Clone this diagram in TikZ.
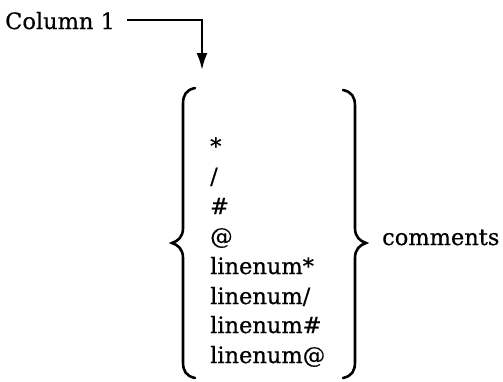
\documentclass[tikz,border=0pt]{standalone}
\usepackage{fontspec}
\setmainfont{DejaVu Serif}[FakeBold=0.5]
\usetikzlibrary{arrows.meta}
\begin{document}
\begin{tikzpicture}[x=1pt,y=-1pt,
  lbl/.style={anchor=base west,inner sep=0pt,font=\fontsize{22.5}{26}\selectfont},
  brace/.style={line width=2.6pt,line cap=round},
  conn/.style={line width=2.2pt,-{Latex[length=17pt,width=11pt]}}]
\useasboundingbox (0,0) rectangle (503,381);
\node[lbl] (col) at (5,29) {Column 1};
\coordinate (tip) at (202,70);
\draw[conn] ([xshift=12pt,yshift=1pt]col.east) -| (tip);
% list
\node[lbl] (i1) at (210,154) {*};
\node[lbl] (i2) at (210,184) {/};
\node[lbl] (i3) at (210,214) {\#};
\node[lbl] (i4) at (210,244) {@};
\node[lbl] (i5) at (210,274) {linenum*};
\node[lbl] (i6) at (210,304) {linenum/};
\node[lbl] (i7) at (210,333) {linenum\#};
\node[lbl] (i8) at (210,363) {linenum@};
% left brace
\draw[brace] (195,88) .. controls (186,90) and (183,95) .. (183,104)
  -- (183,228) .. controls (183,237) and (178,241) .. (172,243)
  .. controls (178,245) and (183,249) .. (183,258)
  -- (183,362) .. controls (183,371) and (186,376) .. (195,378);
% right brace
\draw[brace] (343,90) .. controls (352,92) and (355,97) .. (355,106)
  -- (355,228) .. controls (355,237) and (360,241) .. (366,243)
  .. controls (360,245) and (355,249) .. (355,258)
  -- (355,362) .. controls (355,371) and (352,376) .. (343,378);
\node[lbl] (com) at (382,245) {comments};
\end{tikzpicture}
\end{document}
